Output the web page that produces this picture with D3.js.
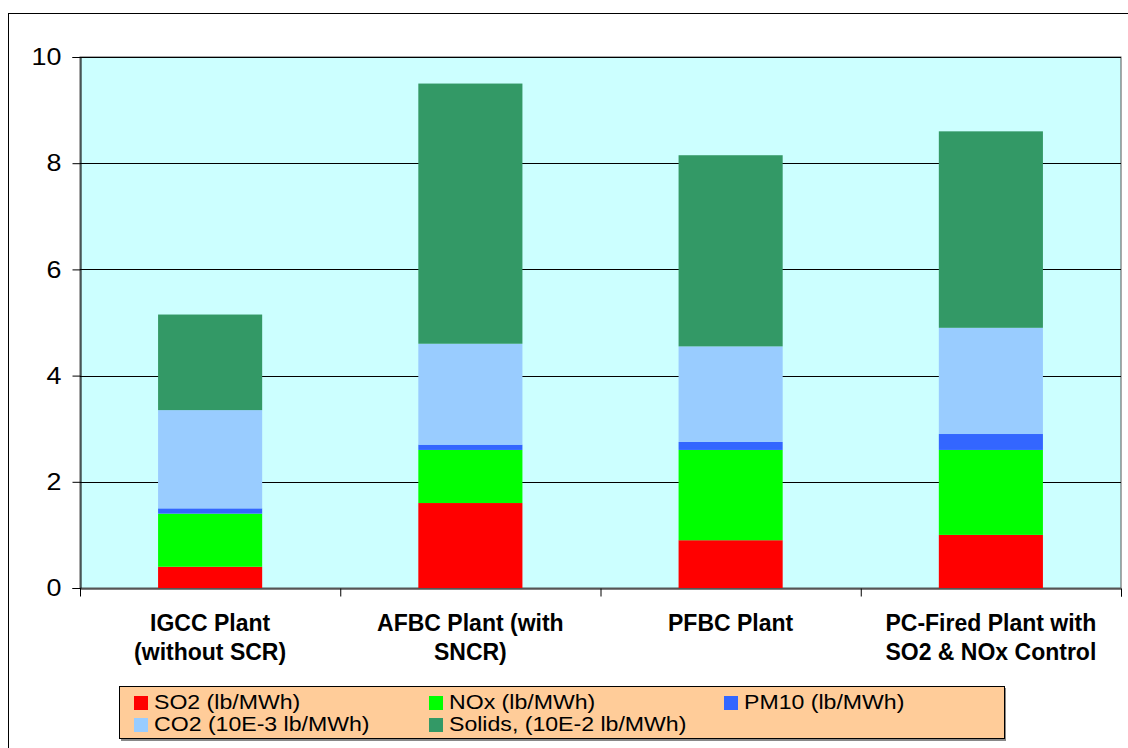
<!DOCTYPE html>
<html>
<head>
<meta charset="utf-8">
<script src="https://cdn.jsdelivr.net/npm/d3@7"></script>
<style>
  body { margin: 0; background: #fff; }
  svg { display: block; font-family: "Liberation Sans", Arial, sans-serif; }
</style>
</head>
<body>
<div id="chart"></div>
<script>
// plant categories, each label split into its two lines
var categories = ["IGCC", "AFBC", "PFBC", "PC"];
var categoryLines = [
  ["IGCC Plant", "(without SCR)"],
  ["AFBC Plant (with", "SNCR)"],
  ["PFBC Plant"],
  ["PC-Fired Plant with", "SO2 & NOx Control"]
];

// series values
var so2    = [0.4, 1.6, 0.9, 1.0];
var nox    = [1.0, 1.0, 1.7, 1.6];
var pm10   = [0.1, 0.1, 0.15, 0.3];
var co2    = [1.85, 1.9, 1.8, 2.0];
var solids = [1.8, 4.9, 3.6, 3.7];

var seriesNames = ["SO2 (lb/MWh)", "NOx (lb/MWh)", "PM10 (lb/MWh)",
                   "CO2 (10E-3 lb/MWh)", "Solids, (10E-2 lb/MWh)"];
var seriesColors = ["#ff0000", "#00ff00", "#3366ff", "#99ccff", "#339966"];
var yTicks = [0, 2, 4, 6, 8, 10];

var W = 1128, H = 748;
var margin = {top: 57, right: 7, bottom: 160, left: 80};

var svg = d3.select("#chart").append("svg")
  .attr("width", W)
  .attr("height", H);

// outer chart border (runs off right and bottom)
svg.append("rect")
  .attr("x", 8.5).attr("y", 13.5)
  .attr("width", W).attr("height", H)
  .attr("fill", "none").attr("stroke", "#000");

var x = d3.scaleBand()
  .domain(categories)
  .range([margin.left, W - margin.right])
  .paddingInner(0.6)
  .paddingOuter(0.3);

var y = d3.scaleLinear()
  .domain([0, 10])
  .range([H - margin.bottom, margin.top]);

// plot area background
svg.append("rect")
  .attr("x", margin.left).attr("y", margin.top)
  .attr("width", W - margin.right - margin.left)
  .attr("height", H - margin.bottom - margin.top)
  .attr("fill", "#ccffff")
  .attr("stroke", "#555");

// gridlines
svg.append("g")
  .selectAll("line")
  .data(yTicks.filter(function(d){ return d > 0; }))
  .enter().append("line")
  .attr("x1", margin.left).attr("x2", W - margin.right)
  .attr("y1", function(d){ return Math.round(y(d)) + 0.5; })
  .attr("y2", function(d){ return Math.round(y(d)) + 0.5; })
  .attr("stroke", "#000");

// stacked bars
var table = categories.map(function(c, i){
  return {cat: c, s0: so2[i], s1: nox[i], s2: pm10[i], s3: co2[i], s4: solids[i]};
});
var stack = d3.stack().keys(["s0", "s1", "s2", "s3", "s4"])(table);

svg.append("g")
  .selectAll("g")
  .data(stack)
  .enter().append("g")
  .attr("fill", function(d, i){ return seriesColors[i]; })
  .selectAll("rect")
  .data(function(d){ return d; })
  .enter().append("rect")
  .attr("x", function(d){ return x(d.data.cat); })
  .attr("width", x.bandwidth())
  .attr("y", function(d){ return y(d[1]); })
  .attr("height", function(d){ return y(d[0]) - y(d[1]); });

// y axis
var yAxis = svg.append("g")
  .attr("transform", "translate(" + (margin.left + 0.5) + ",0)")
  .call(d3.axisLeft(y).tickValues(yTicks).tickSize(8).tickPadding(11));
yAxis.select(".domain").attr("stroke", "#000");
yAxis.selectAll("line").attr("stroke", "#000");
yAxis.selectAll("text")
  .attr("font-size", 24)
  .attr("fill", "#000")
  .attr("font-family", "Liberation Sans, Arial, sans-serif")
  .attr("transform", function(){
    var tx = +d3.select(this).attr("x");
    return "translate(" + tx + ",0) scale(1.12,1) translate(" + (-tx) + ",0)";
  });

// x axis: tick marks at category boundaries
var xb = d3.scaleLinear().domain([0, 4]).range([margin.left, W - margin.right]);
var xAxis = svg.append("g")
  .attr("transform", "translate(0," + (y(0) + 0.5) + ")")
  .call(d3.axisBottom(xb).tickValues([1, 2, 3, 4]).tickSize(8).tickFormat(""));
xAxis.select(".domain").attr("stroke", "#000");
xAxis.selectAll("line").attr("stroke", "#000");

// category labels
var labels = svg.append("g")
  .selectAll("text")
  .data(categories)
  .enter().append("text")
  .attr("text-anchor", "middle")
  .attr("font-weight", "bold")
  .attr("font-size", 23)
  .attr("fill", "#000");
labels.each(function(c, i){
  var t = d3.select(this);
  categoryLines[i].forEach(function(line, j){
    t.append("tspan")
      .attr("x", x(c) + x.bandwidth() / 2)
      .attr("y", 631 + j * 29)
      .text(line);
  });
});

// legend
var lg = svg.append("g");
lg.append("rect")
  .attr("x", 121).attr("y", 688)
  .attr("width", 885).attr("height", 53)
  .attr("fill", "#888");
lg.append("rect")
  .attr("x", 119.5).attr("y", 686.5)
  .attr("width", 885).attr("height", 52)
  .attr("fill", "#ffcc99").attr("stroke", "#000");

var legendCols = [134, 429, 724];
var legendRows = [696, 718];
var items = lg.selectAll("g.item")
  .data(seriesNames)
  .enter().append("g")
  .attr("class", "item")
  .attr("transform", function(d, i){
    return "translate(" + legendCols[i % 3] + "," + legendRows[Math.floor(i / 3)] + ")";
  });
items.append("rect")
  .attr("width", 14).attr("height", 14)
  .attr("fill", function(d, i){ return seriesColors[i]; });
items.append("text")
  .attr("x", 0).attr("y", 13)
  .attr("font-size", 21)
  .attr("fill", "#000")
  .attr("transform", "translate(20,0) scale(1.1,1)")
  .text(function(d){ return d; });
</script>
</body>
</html>
